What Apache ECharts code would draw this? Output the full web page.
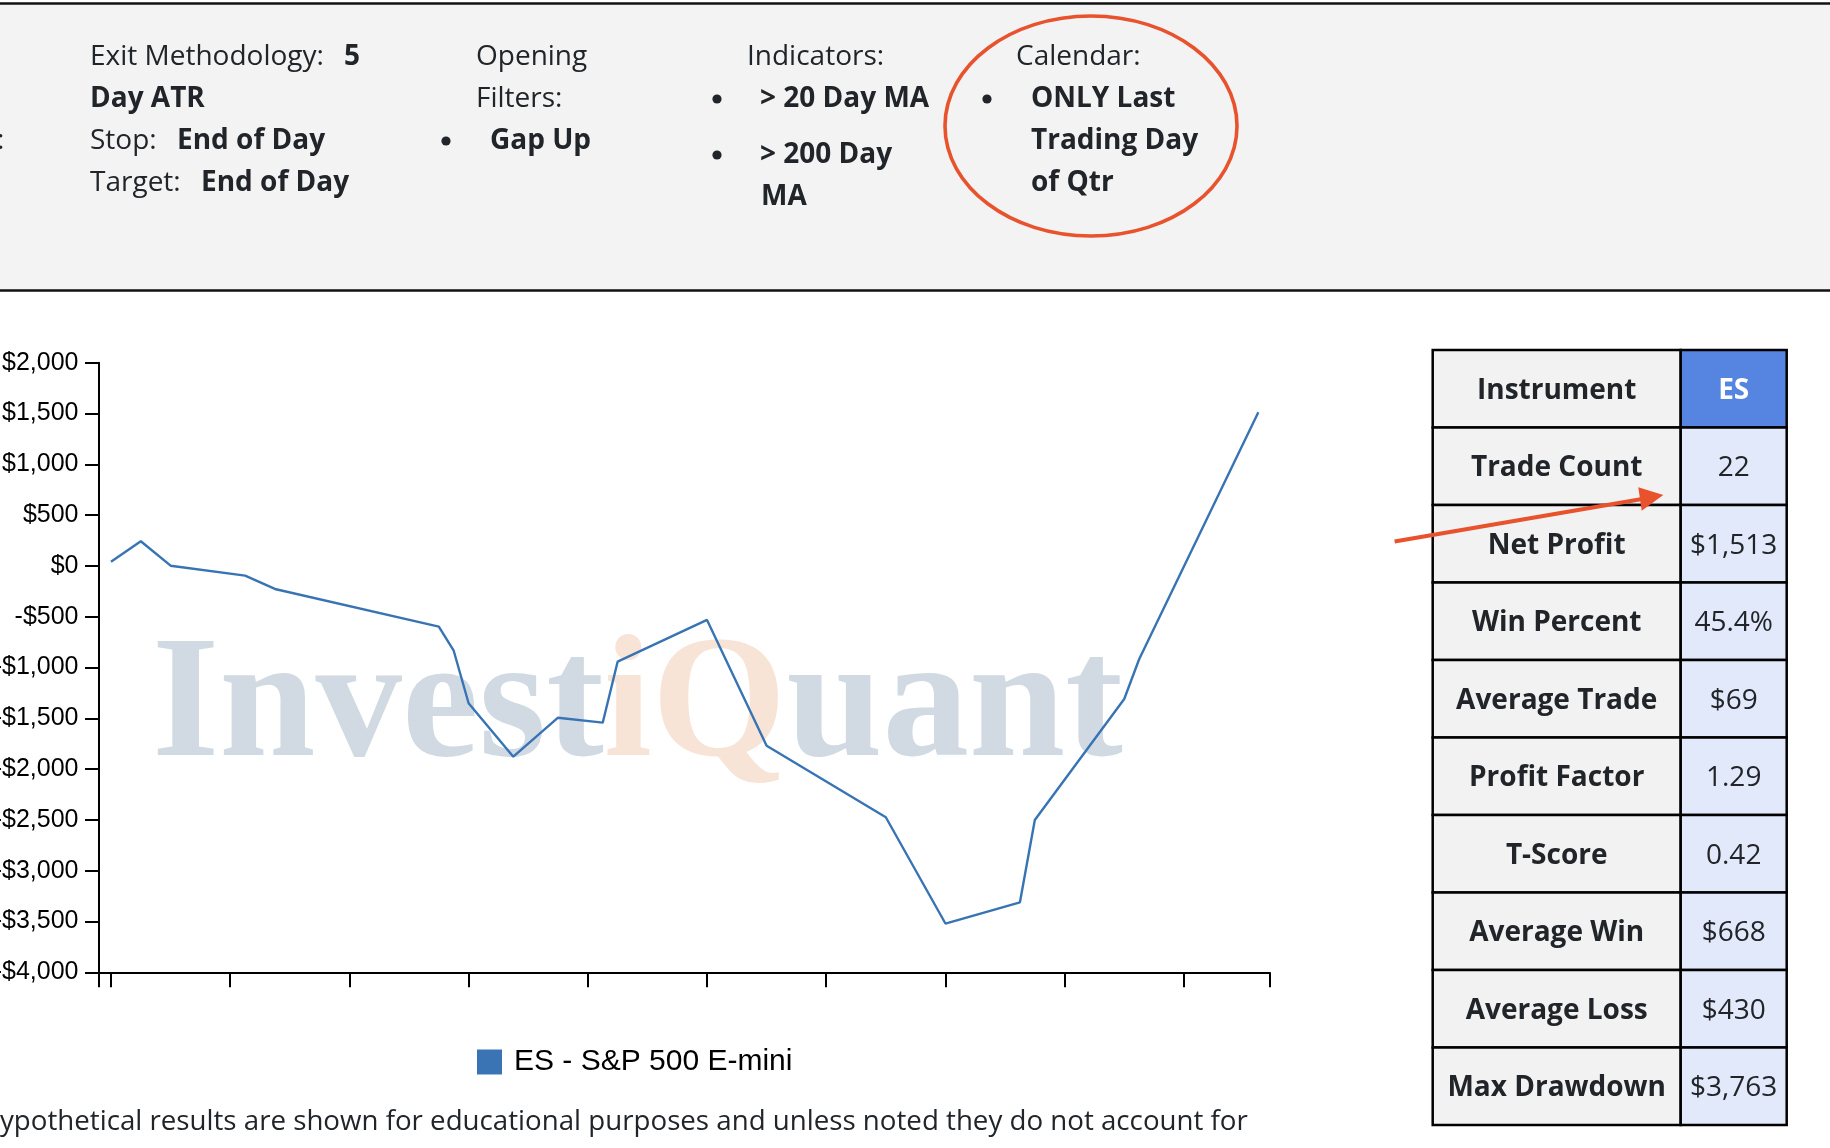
<!DOCTYPE html>
<html><head><meta charset="utf-8">
<script src="https://cdn.jsdelivr.net/npm/echarts@6/dist/echarts.min.js"></script>
<style>html,body{margin:0;padding:0;background:#fff;overflow:hidden}#c{width:1830px;height:1148px}</style>
</head><body><div id="c"></div><script>
// ---- data ----
const seriesName = 'ES - S&P 500 E-mini';
const periods = [0, 0.25, 0.5, 1.125, 1.375, 2.75, 2.875, 3.0, 3.375, 3.75, 4.125, 4.25, 5.0, 5.5, 6.5, 7.0, 7.625, 7.75, 8.5, 8.625, 9.625];
const equity  = [41, 243, 2, -96, -227, -598, -835, -1352, -1878, -1494, -1543, -943, -532, -1770, -2474, -3520, -3311, -2501, -1310, -919, 1513];
const yearTicks = [0, 1, 2, 3, 4, 5, 6, 7, 8, 9];
const tableLabels = ['Instrument', 'Trade Count', 'Net Profit', 'Win Percent', 'Average Trade', 'Profit Factor', 'T-Score', 'Average Win', 'Average Loss', 'Max Drawdown'];
const tableValues = ['ES', '22', '$1,513', '45.4%', '$69', '1.29', '0.42', '$668', '$430', '$3,763'];

// ---- layout ----
const X_MIN = -0.1007, X_MAX = 9.717;
const FONT = '"Open Sans", "DejaVu Sans", sans-serif';
const TXT = '#212529';
const RED = '#e8522d';

const chart = echarts.init(document.getElementById('c'), null, {renderer: 'canvas'});
const g = [];

// header box
g.push({type: 'rect', shape: {x: 0, y: 3.5, width: 1830, height: 287}, style: {fill: '#f3f3f3'}, z: 0});
g.push({type: 'line', shape: {x1: 0, y1: 3.5, x2: 1830, y2: 3.5}, style: {stroke: '#111', lineWidth: 2.5}, z: 1});
g.push({type: 'line', shape: {x1: 0, y1: 290.5, x2: 1830, y2: 290.5}, style: {stroke: '#111', lineWidth: 2.5}, z: 1});

function txt(t, x, y, bold, size, fill, align) {
  g.push({type: 'text', x: x, y: y, z: 5, style: {
    text: t, font: (bold ? 'bold ' : '') + (size || 28) + 'px ' + FONT,
    fill: fill || TXT, align: align || 'left', verticalAlign: 'middle'}});
}
function bullet(x, y) {
  g.push({type: 'circle', shape: {cx: x, cy: y, r: 4.6}, style: {fill: TXT}, z: 5});
}
const L = [57, 99, 141, 183];
txt(':', -3, L[2], false);
txt('Exit Methodology:', 90, L[0], false);
txt('5', 344, L[0], true);
txt('Day ATR', 90, L[1], true);
txt('Stop:', 90, L[2], false);
txt('End of Day', 177, L[2], true);
txt('Target:', 90, L[3], false);
txt('End of Day', 201, L[3], true);
txt('Opening', 476, L[0], false);
txt('Filters:', 476, L[1], false);
bullet(446, L[2]);
txt('Gap Up', 490, L[2], true);
txt('Indicators:', 747, L[0], false);
bullet(717, L[1]);
txt('> 20 Day MA', 760, L[1], true);
bullet(717, 155);
txt('> 200 Day', 760, 155, true);
txt('MA', 761, 197, true);
txt('Calendar:', 1016, L[0], false);
bullet(987, L[1]);
txt('ONLY Last', 1031, L[1], true);
txt('Trading Day', 1031, L[2], true);
txt('of Qtr', 1031, L[3], true);
// red ellipse
g.push({type: 'ellipse', shape: {cx: 1091, cy: 126, rx: 146, ry: 110}, style: {fill: 'none', stroke: RED, lineWidth: 3.6}, z: 6});

// watermark
g.push({type: 'text', x: 152, y: 710, z: 0, style: {
  text: '{a|Invest}{b|iQ}{a|uant}', align: 'left', verticalAlign: 'middle',
  font: 'bold 173px "Liberation Serif", serif',
  rich: {
    a: {fill: '#d1dae2', font: 'bold 173px "Liberation Serif", serif'},
    b: {fill: '#f8e4d7', font: 'bold 173px "Liberation Serif", serif'}
  }}});

// table
const TX = 1432.7, TD = 1680.7, TR = 1786.7, TY = 350, RH = 77.5;
tableLabels.forEach(function (lab, i) {
  const y = TY + i * RH;
  g.push({type: 'rect', shape: {x: TX, y: y, width: TD - TX, height: RH}, style: {fill: '#f2f2f2', stroke: '#000', lineWidth: 2.5}, z: 3});
  g.push({type: 'rect', shape: {x: TD, y: y, width: TR - TD, height: RH}, style: {fill: i === 0 ? '#5585e0' : '#e2e9fa', stroke: '#000', lineWidth: 2.5}, z: 3});
  txt(lab, (TX + TD) / 2, y + RH / 2 + 2, true, 28, TXT, 'center');
  txt(tableValues[i], (TD + TR) / 2, y + RH / 2 + 2, i === 0, 28, i === 0 ? '#fff' : TXT, 'center');
});

// arrow
g.push({type: 'line', shape: {x1: 1394.6, y1: 541.5, x2: 1645, y2: 498.5}, style: {stroke: RED, lineWidth: 4}, z: 7});
g.push({type: 'polygon', shape: {points: [[1663.3, 495], [1638.3, 487.3], [1641.7, 510.7]]}, style: {fill: RED}, z: 7});

// footer
txt('Hypothetical results are shown for educational purposes and unless noted they do not account for', -20.5, 1122, false, 27.7, TXT);

chart.setOption({
  backgroundColor: '#fff',
  animation: false,
  textStyle: {fontFamily: '"Liberation Sans", Arial, sans-serif'},
  graphic: {elements: g},
  legend: {
    data: [seriesName], left: 472, top: 1042, icon: 'rect', itemWidth: 25, itemHeight: 25,
    textStyle: {fontSize: 30, color: '#000', fontFamily: '"Liberation Sans", Arial, sans-serif', padding: [0, 0, 0, 7]},
    selectedMode: false
  },
  grid: {left: 99, top: 362.7, width: 1170.3, height: 609.6, containLabel: false, outerBoundsMode: 'none'},
  xAxis: {
    type: 'value', min: X_MIN, max: X_MAX,
    axisLine: {show: true, onZero: false, lineStyle: {color: '#000', width: 2}},
    axisTick: {show: true, length: 15, lineStyle: {color: '#000', width: 2}, customValues: [X_MIN].concat(yearTicks, [X_MAX])},
    axisLabel: {show: false},
    splitLine: {show: false}
  },
  yAxis: {
    type: 'value', min: -4000, max: 2000, interval: 500,
    axisLine: {show: true, onZero: false, lineStyle: {color: '#000', width: 2}},
    axisTick: {show: true, length: 14, lineStyle: {color: '#000', width: 2}},
    axisLabel: {
      fontSize: 25, color: '#000', margin: 20.5, fontFamily: '"Liberation Sans", Arial, sans-serif',
      formatter: function (v) { return (v < 0 ? '-' : '') + '$' + Math.abs(v).toLocaleString('en-US'); }
    },
    splitLine: {show: false}
  },
  series: [{
    name: seriesName, type: 'line', z: 10,
    data: periods.map(function (p, i) { return [p, equity[i]]; }),
    showSymbol: false, symbol: 'none',
    itemStyle: {color: '#3a74b4'},
    lineStyle: {color: '#3874b4', width: 2.4}
  }]
});
</script></body></html>
